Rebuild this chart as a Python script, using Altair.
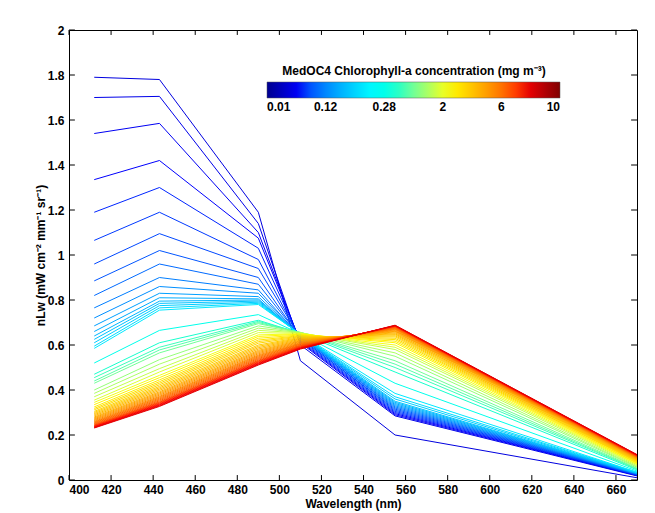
import altair as alt
import pandas as pd

# ---------------- data ----------------
wavelengths = [412, 443, 490, 510, 555, 670]

nlw_412 = [1.79, 1.70, 1.54, 1.335, 1.19, 1.065, 0.96, 0.885, 0.82, 0.765,
           0.72, 0.685, 0.66, 0.64, 0.625, 0.61, 0.595, 0.585, 0.52, 0.47,
           0.455, 0.44, 0.43, 0.40, 0.385, 0.37, 0.355, 0.345, 0.335, 0.325,
           0.318, 0.312, 0.305, 0.30, 0.295, 0.29, 0.285, 0.28, 0.276, 0.272,
           0.268, 0.264, 0.26, 0.257, 0.254, 0.251, 0.248, 0.245, 0.243, 0.241,
           0.239, 0.237, 0.235, 0.233, 0.231]
nlw_443 = [1.78, 1.705, 1.585, 1.42, 1.30, 1.19, 1.095, 1.02, 0.96, 0.90,
           0.86, 0.83, 0.81, 0.795, 0.785, 0.775, 0.765, 0.755, 0.665, 0.61,
           0.59, 0.578, 0.565, 0.535, 0.515, 0.495, 0.48, 0.465, 0.455, 0.445,
           0.437, 0.43, 0.423, 0.416, 0.41, 0.404, 0.398, 0.392, 0.387, 0.382,
           0.377, 0.372, 0.368, 0.364, 0.36, 0.356, 0.352, 0.348, 0.345, 0.342,
           0.339, 0.336, 0.333, 0.33, 0.327]
nlw_490 = [1.19, 1.14, 1.10, 1.075, 1.03, 0.98, 0.94, 0.90, 0.87, 0.845,
           0.83, 0.815, 0.805, 0.80, 0.795, 0.79, 0.785, 0.78, 0.735, 0.71,
           0.705, 0.70, 0.695, 0.685, 0.675, 0.665, 0.655, 0.645, 0.638, 0.63,
           0.622, 0.615, 0.608, 0.60, 0.594, 0.588, 0.582, 0.576, 0.571, 0.566,
           0.561, 0.556, 0.552, 0.548, 0.544, 0.54, 0.536, 0.532, 0.529, 0.526,
           0.523, 0.52, 0.517, 0.514, 0.511]
nlw_510 = [0.53, 0.60, 0.61, 0.615, 0.62, 0.625, 0.63, 0.63, 0.635, 0.635,
           0.638, 0.64, 0.64, 0.642, 0.644, 0.645, 0.646, 0.648, 0.65, 0.652,
           0.654, 0.655, 0.656, 0.656, 0.655, 0.654, 0.652, 0.65, 0.648, 0.645,
           0.642, 0.64, 0.637, 0.634, 0.631, 0.628, 0.625, 0.622, 0.619, 0.616,
           0.613, 0.61, 0.607, 0.605, 0.603, 0.60, 0.598, 0.596, 0.594, 0.592,
           0.59, 0.588, 0.586, 0.584, 0.582]
nlw_555 = [0.20, 0.285, 0.29, 0.295, 0.30, 0.305, 0.31, 0.315, 0.32, 0.325,
           0.33, 0.335, 0.34, 0.345, 0.35, 0.36, 0.37, 0.385, 0.43, 0.48,
           0.50, 0.515, 0.53, 0.55, 0.565, 0.58, 0.59, 0.60, 0.61, 0.617,
           0.624, 0.63, 0.636, 0.641, 0.646, 0.65, 0.654, 0.658, 0.661, 0.664,
           0.667, 0.67, 0.672, 0.674, 0.676, 0.678, 0.68, 0.681, 0.682, 0.683,
           0.684, 0.685, 0.686, 0.687, 0.688]
nlw_670 = [0.01, 0.018, 0.02, 0.021, 0.022, 0.023, 0.024, 0.025, 0.026, 0.027,
           0.028, 0.029, 0.03, 0.031, 0.032, 0.033, 0.034, 0.035, 0.04, 0.045,
           0.048, 0.05, 0.053, 0.057, 0.06, 0.064, 0.068, 0.071, 0.074, 0.077,
           0.08, 0.082, 0.084, 0.086, 0.088, 0.09, 0.092, 0.094, 0.096, 0.097,
           0.099, 0.10, 0.101, 0.102, 0.103, 0.104, 0.105, 0.106, 0.107, 0.108,
           0.109, 0.11, 0.111, 0.112, 0.113]
# position of each curve on the colour bar (0 = 0.01 mg m-3, 1 = 10 mg m-3)
cbar_pos = [0.08, 0.09, 0.10, 0.11, 0.12, 0.13, 0.14, 0.15, 0.17, 0.19,
            0.21, 0.23, 0.245, 0.26, 0.275, 0.29, 0.31, 0.33, 0.40, 0.44,
            0.46, 0.48, 0.50, 0.53, 0.55, 0.57, 0.59, 0.61, 0.63, 0.645,
            0.66, 0.67, 0.68, 0.69, 0.70, 0.71, 0.72, 0.73, 0.74, 0.75,
            0.76, 0.77, 0.78, 0.79, 0.80, 0.81, 0.82, 0.83, 0.84, 0.85,
            0.86, 0.87, 0.88, 0.89, 0.90]

x_ticks = [400, 420, 440, 460, 480, 500, 520, 540, 560, 580, 600, 620, 640, 660]
y_ticks = [0, 0.2, 0.4, 0.6, 0.8, 1.0, 1.2, 1.4, 1.6, 1.8, 2.0]

legend_vals = [0, 0.2, 0.4, 0.6, 0.8, 1.0]
legend_labels = ["0.01", "0.12", "0.28", "2", "6", "10"]

jet_domain = [0, 0.111, 0.365, 0.619, 0.873, 1.0]
jet_range = ["#00008f", "#0000ff", "#00ffff", "#ffff00", "#ff0000", "#800000"]

# ---------------- build table ----------------
series = [nlw_412, nlw_443, nlw_490, nlw_510, nlw_555, nlw_670]
rows = []
for i in range(len(nlw_412)):
    for w, arr in zip(wavelengths, series):
        rows.append({"line": f"L{i:02d}", "wl": w, "nlw": arr[i], "pos": cbar_pos[i]})
df = pd.DataFrame(rows)

expr = f"'{legend_labels[-1]}'"
for v, lab in reversed(list(zip(legend_vals[:-1], legend_labels[:-1]))):
    expr = f"datum.value < {v + 0.1:.2f} ? '{lab}' : ({expr})"

FONT = "Liberation Sans"
x_scale = alt.Scale(domain=[400, 670], nice=False, zero=False)
y_scale = alt.Scale(domain=[0, 2], nice=False, zero=False)

x_axis = alt.Axis(values=x_ticks, title="Wavelength (nm)", ticks=False, domain=False,
                  grid=False, format="d", labelPadding=4, titlePadding=3)
y_axis = alt.Axis(values=y_ticks, title="nLw (mW cm⁻² mm⁻¹ sr⁻¹)", ticks=False,
                  domain=False, grid=False, format="~g", labelPadding=5, titlePadding=0)

lines = alt.Chart(df).mark_line(strokeWidth=1).encode(
    x=alt.X("wl:Q", scale=x_scale, axis=x_axis),
    y=alt.Y("nlw:Q", scale=y_scale, axis=y_axis),
    color=alt.Color(
        "pos:Q",
        scale=alt.Scale(domain=jet_domain, range=jet_range),
        legend=alt.Legend(
            title="MedOC4 Chlorophyll-a concentration (mg m⁻³)",
            orient="none", legendX=198, legendY=36, direction="horizontal",
            gradientLength=293, gradientThickness=16, values=legend_vals,
            labelExpr=expr, labelAlign="center", labelOverlap=False,
            titleAnchor="middle", titleFontSize=12, titleFontWeight="bold",
            labelFontSize=12, labelFontWeight="bold", titleColor="black",
            labelColor="black", titleLimit=500, titlePadding=4, labelOffset=4,
            gradientStrokeColor="#555555", gradientStrokeWidth=0.5,
        ),
    ),
    detail="line:N",
)

xt = pd.DataFrame({"v": x_ticks})
yt = pd.DataFrame({"v": y_ticks})
tick_len_y = 0.022
tick_len_x = 2.8

bottom_ticks = alt.Chart(xt).mark_rule(color="black", strokeWidth=1).encode(
    x=alt.X("v:Q", scale=x_scale, axis=x_axis),
    y=alt.YDatum(0, scale=y_scale, axis=y_axis), y2=alt.Y2Datum(tick_len_y))
top_ticks = alt.Chart(xt).mark_rule(color="black", strokeWidth=1).encode(
    x=alt.X("v:Q", scale=x_scale, axis=x_axis),
    y=alt.YDatum(2, scale=y_scale, axis=y_axis), y2=alt.Y2Datum(2 - tick_len_y))
left_ticks = alt.Chart(yt).mark_rule(color="black", strokeWidth=1).encode(
    y=alt.Y("v:Q", scale=y_scale, axis=y_axis),
    x=alt.XDatum(400, scale=x_scale, axis=x_axis), x2=alt.X2Datum(400 + tick_len_x))
right_ticks = alt.Chart(yt).mark_rule(color="black", strokeWidth=1).encode(
    y=alt.Y("v:Q", scale=y_scale, axis=y_axis),
    x=alt.XDatum(670, scale=x_scale, axis=x_axis), x2=alt.X2Datum(670 - tick_len_x))

chart = alt.layer(lines, bottom_ticks, top_ticks, left_ticks, right_ticks).properties(
    width=568, height=450,
    autosize=alt.AutoSizeParams(type="none"),
    padding={"left": 61, "top": 22, "right": 10, "bottom": 33},
    background="white",
).configure_view(stroke="black", strokeWidth=1).configure_axis(
    labelFont=FONT, titleFont=FONT, labelFontSize=12, labelFontWeight="bold",
    titleFontSize=12, titleFontWeight="bold", labelColor="black", titleColor="black",
).configure_legend(labelFont=FONT, titleFont=FONT)

chart.save("out.html", embed_options={"renderer": "svg", "actions": False})
